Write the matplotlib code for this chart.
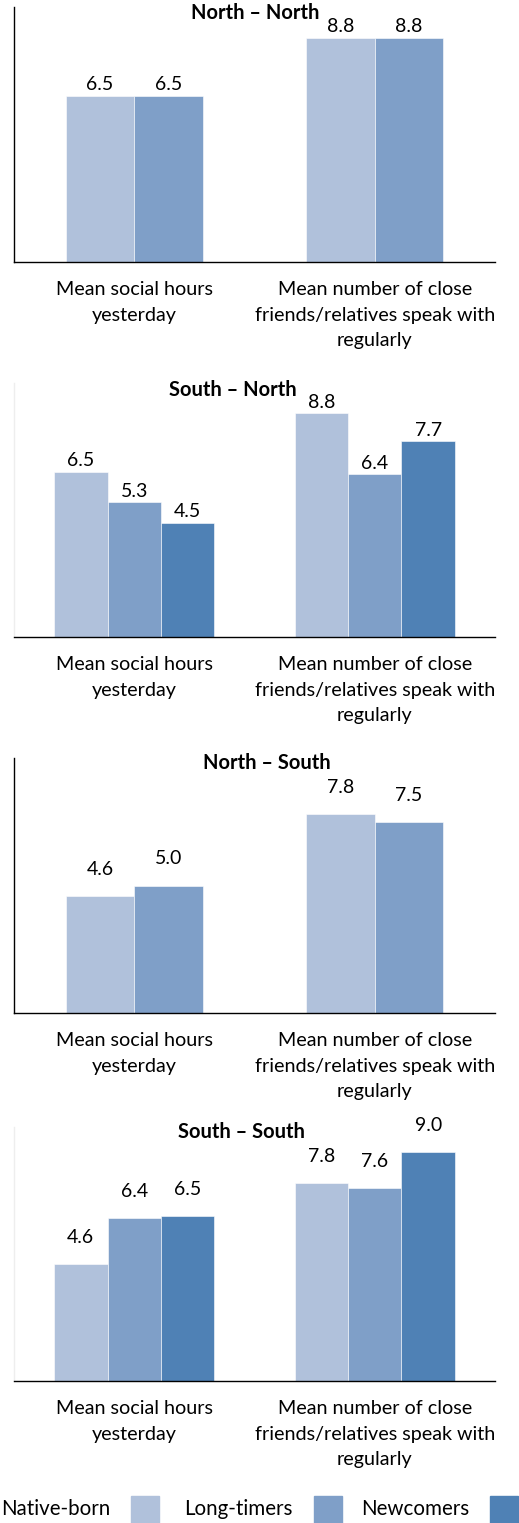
import matplotlib.pyplot as plt
from matplotlib.patches import Rectangle
import numpy as np

plt.rcParams['font.family'] = ['Lato', 'DejaVu Sans']

# categories and series
categories = ["Mean social hours\nyesterday",
              "Mean number of close\nfriends/relatives speak with\nregularly"]
series_names = ["Native-born", "Long-timers", "Newcomers"]
colors = ["#B0C1DB", "#7F9FC8", "#4F81B5"]

panel_titles = ["North \u2013 North", "South \u2013 North",
                "North \u2013 South", "South \u2013 South"]

north_north = [[6.5, 8.8], [6.5, 8.8]]
south_north = [[6.5, 8.8], [5.3, 6.4], [4.5, 7.7]]
north_south = [[4.6, 7.8], [5.0, 7.5]]
south_south = [[4.6, 7.8], [6.4, 7.6], [6.5, 9.0]]
panel_values = [north_north, south_north, north_south, south_south]

W, H = 519, 1523
fig = plt.figure(figsize=(W / 100, H / 100), dpi=100)

# panel frames in pixels (top, bottom)
frames = [(7, 262), (383, 637), (758, 1013), (1127, 1381)]
left_px, right_px = 14, 495
left_spine_col = ["black", "#EEEEEE", "black", "#EEEEEE"]
label_off = [2, 2, 13, 13]      # label gap above bar, in points
title_x = [255, 233, 267, 241]  # titles were placed by hand in the source
title_dy = [6, 7, 5, 5]

for k, (top, bot) in enumerate(frames):
    ax = fig.add_axes([left_px / W, 1 - bot / H,
                       (right_px - left_px) / W, (bot - top) / H])
    vals = panel_values[k]
    n = len(vals)
    w = 1 / (n + 1.5)
    x = np.arange(len(categories))
    for i, v in enumerate(vals):
        pos = x + (i - (n - 1) / 2) * w
        bars = ax.bar(pos, v, width=w, color=colors[i],
                      edgecolor="white", linewidth=0.4)
        for b, val in zip(bars, v):
            ax.annotate(f"{val:.1f}", (b.get_x() + b.get_width() / 2, val),
                        xytext=(0, label_off[k]), textcoords="offset points",
                        ha="center", va="bottom", fontsize=14)
    ax.set_xlim(-0.5, 1.5)
    ax.set_ylim(0, 10)
    ax.set_yticks([])
    ax.set_xticks([])
    for s in ["top", "right"]:
        ax.spines[s].set_visible(False)
    ax.spines["bottom"].set_linewidth(1.0)
    ax.spines["left"].set_color(left_spine_col[k])
    ax.spines["left"].set_linewidth(1.0)
    ax.text((title_x[k] - left_px) / (right_px - left_px),
            1 - title_dy[k] / (bot - top), panel_titles[k],
            transform=ax.transAxes, ha="center", va="center",
            fontsize=14.5, fontweight="bold")
    for xi, cat in zip(x, categories):
        ax.text(xi, -19 / (bot - top) * 10, cat, ha="center", va="top",
                fontsize=14.2, linespacing=1.62)

# legend: label then swatch, partially cropped like the source
box_left = [131, 314, 490]
for name, col, bx in zip(series_names, colors, box_left):
    fig.text((bx - 21) / W, 1 - 1509 / H, name, ha="right", va="center",
             fontsize=14.8)
    fig.patches.append(Rectangle((bx / W, 1 - 1523 / H), 28 / W, 27 / H,
                                 transform=fig.transFigure, color=col))

fig.savefig("out.png", dpi=100)
